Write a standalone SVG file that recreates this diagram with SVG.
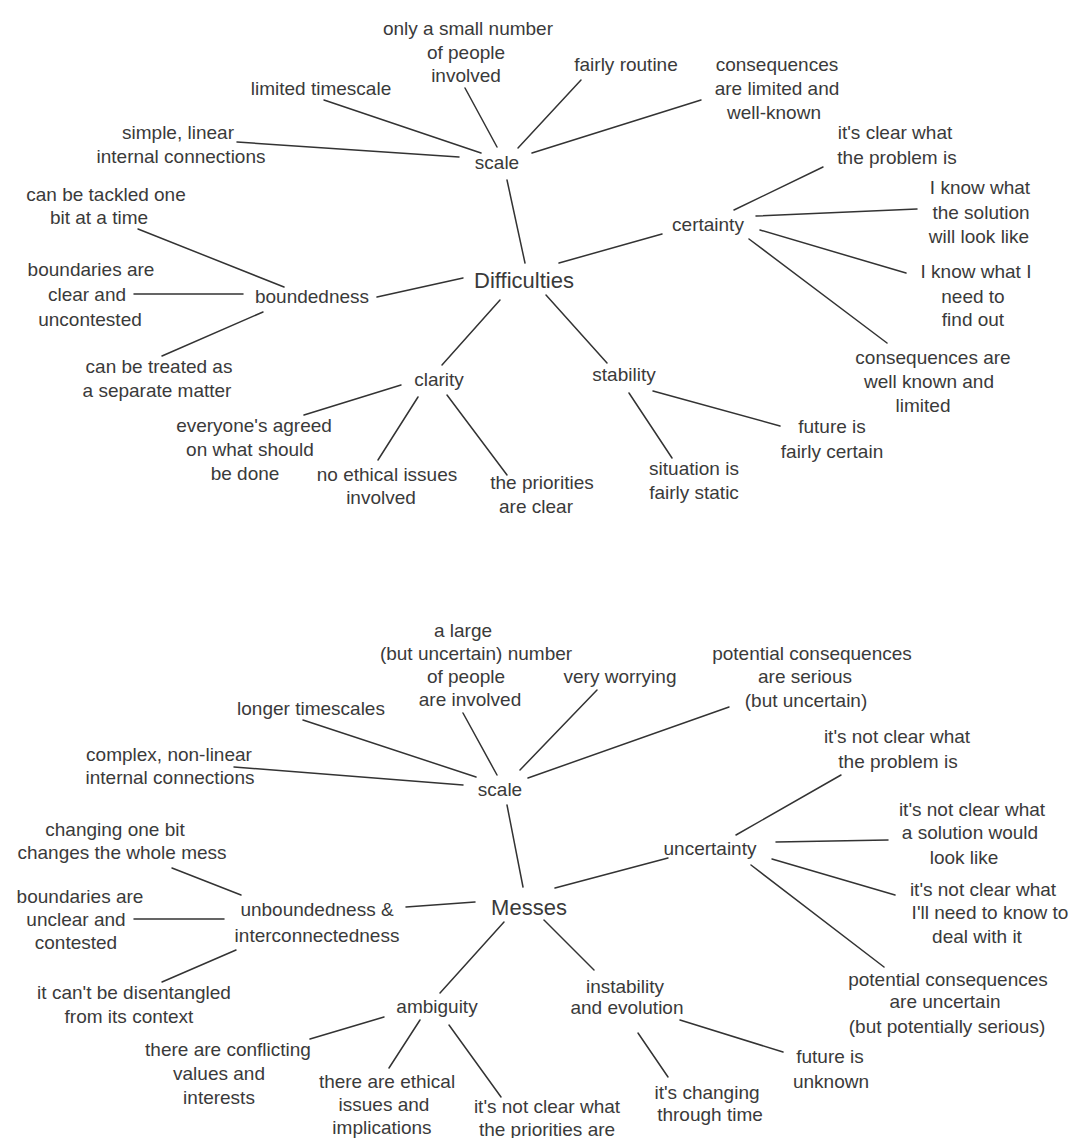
<svg xmlns="http://www.w3.org/2000/svg" width="1079" height="1138" viewBox="0 0 1079 1138">
<style>
text{font-family:"Liberation Sans",Arial,sans-serif;font-size:19px;fill:#3a3a3a;text-anchor:middle}
text.big{font-size:22px}
#connectors line{stroke:#333;stroke-width:1.5;stroke-linecap:round}
</style>
<rect width="1079" height="1138" fill="#fff"/>
<g id="connectors">
<line x1="525" y1="263" x2="507" y2="180"/>
<line x1="481" y1="153" x2="324" y2="100"/>
<line x1="497" y1="147" x2="465" y2="88"/>
<line x1="518" y1="148" x2="581" y2="80"/>
<line x1="532" y1="153" x2="701" y2="100"/>
<line x1="459" y1="157" x2="237" y2="142"/>
<line x1="559" y1="263" x2="662" y2="234"/>
<line x1="734" y1="210" x2="823" y2="167"/>
<line x1="756" y1="216" x2="917" y2="209"/>
<line x1="760" y1="230" x2="906" y2="273"/>
<line x1="749" y1="239" x2="887" y2="343"/>
<line x1="463" y1="278" x2="377" y2="297"/>
<line x1="284" y1="287" x2="138" y2="229"/>
<line x1="243" y1="294" x2="134" y2="294"/>
<line x1="263" y1="312" x2="162" y2="356"/>
<line x1="500" y1="300" x2="442" y2="365"/>
<line x1="401" y1="385" x2="304" y2="415"/>
<line x1="418" y1="397" x2="378" y2="460"/>
<line x1="447" y1="395" x2="507" y2="475"/>
<line x1="546" y1="295" x2="607" y2="363"/>
<line x1="653" y1="391" x2="780" y2="426"/>
<line x1="629" y1="393" x2="672" y2="458"/>
<line x1="523" y1="887" x2="507" y2="805"/>
<line x1="476" y1="777" x2="303" y2="720"/>
<line x1="497" y1="775" x2="463" y2="713"/>
<line x1="520" y1="770" x2="597" y2="690"/>
<line x1="528" y1="778" x2="729" y2="707"/>
<line x1="463" y1="785" x2="234" y2="767"/>
<line x1="555" y1="888" x2="668" y2="858"/>
<line x1="736" y1="835" x2="841" y2="775"/>
<line x1="776" y1="842" x2="888" y2="840"/>
<line x1="772" y1="859" x2="895" y2="895"/>
<line x1="751" y1="865" x2="884" y2="967"/>
<line x1="475" y1="902" x2="406" y2="907"/>
<line x1="241" y1="895" x2="172" y2="868"/>
<line x1="224" y1="919" x2="134" y2="919"/>
<line x1="236" y1="950" x2="162" y2="982"/>
<line x1="504" y1="922" x2="440" y2="993"/>
<line x1="384" y1="1017" x2="310" y2="1039"/>
<line x1="420" y1="1020" x2="389" y2="1068"/>
<line x1="449" y1="1025" x2="501" y2="1097"/>
<line x1="544" y1="920" x2="594" y2="970"/>
<line x1="680" y1="1020" x2="783" y2="1052"/>
<line x1="638" y1="1033" x2="668" y2="1077"/>
</g>
<g id="difficulties"><text class="big" x="524" y="288">Difficulties</text></g>
<g id="scale1"><text x="497" y="169">scale</text></g>
<g id="small-number"><text x="468" y="35">only a small number</text><text x="466" y="59">of people</text><text x="466" y="82">involved</text></g>
<g id="limited-timescale"><text x="321" y="95">limited timescale</text></g>
<g id="fairly-routine"><text x="626" y="71">fairly routine</text></g>
<g id="consequences1"><text x="777" y="71">consequences</text><text x="777" y="95">are limited and</text><text x="774" y="119">well-known</text></g>
<g id="simple-linear"><text x="178" y="139">simple, linear</text><text x="181" y="163">internal connections</text></g>
<g id="certainty"><text x="708" y="231">certainty</text></g>
<g id="clear-problem"><text x="895" y="139">it's clear what</text><text x="897" y="164">the problem is</text></g>
<g id="know-solution"><text x="980" y="194">I know what</text><text x="981" y="219">the solution</text><text x="979" y="243">will look like</text></g>
<g id="know-findout"><text x="976" y="278">I know what I</text><text x="973" y="303">need to</text><text x="973" y="326">find out</text></g>
<g id="consequences2"><text x="933" y="364">consequences are</text><text x="929" y="388">well known and</text><text x="923" y="412">limited</text></g>
<g id="boundedness"><text x="312" y="303">boundedness</text></g>
<g id="tackled"><text x="106" y="201">can be tackled one</text><text x="99" y="224">bit at a time</text></g>
<g id="boundaries1"><text x="91" y="276">boundaries are</text><text x="87" y="301">clear and</text><text x="90" y="326">uncontested</text></g>
<g id="treated"><text x="159" y="373">can be treated as</text><text x="157" y="397">a separate matter</text></g>
<g id="clarity"><text x="439" y="386">clarity</text></g>
<g id="everyone-agreed"><text x="254" y="432">everyone's agreed</text><text x="250" y="456">on what should</text><text x="245" y="480">be done</text></g>
<g id="no-ethical"><text x="387" y="481">no ethical issues</text><text x="381" y="504">involved</text></g>
<g id="priorities-clear"><text x="542" y="489">the priorities</text><text x="536" y="513">are clear</text></g>
<g id="stability"><text x="624" y="381">stability</text></g>
<g id="future-certain"><text x="832" y="433">future is</text><text x="832" y="458">fairly certain</text></g>
<g id="situation-static"><text x="694" y="475">situation is</text><text x="694" y="499">fairly static</text></g>
<g id="messes"><text class="big" x="529" y="915">Messes</text></g>
<g id="scale2"><text x="500" y="796">scale</text></g>
<g id="large-number"><text x="463" y="637">a large</text><text x="476" y="660">(but uncertain) number</text><text x="466" y="683">of people</text><text x="470" y="706">are involved</text></g>
<g id="very-worrying"><text x="620" y="683">very worrying</text></g>
<g id="consequences3"><text x="812" y="660">potential consequences</text><text x="805" y="683">are serious</text><text x="806" y="707">(but uncertain)</text></g>
<g id="longer-timescales"><text x="311" y="715">longer timescales</text></g>
<g id="complex"><text x="169" y="761">complex, non-linear</text><text x="170" y="784">internal connections</text></g>
<g id="uncertainty"><text x="710" y="855">uncertainty</text></g>
<g id="notclear-problem"><text x="897" y="743">it's not clear what</text><text x="898" y="768">the problem is</text></g>
<g id="notclear-solution"><text x="972" y="816">it's not clear what</text><text x="970" y="839">a solution would</text><text x="964" y="864">look like</text></g>
<g id="notclear-need"><text x="983" y="896">it's not clear what</text><text x="990" y="919">I'll need to know to</text><text x="977" y="943">deal with it</text></g>
<g id="consequences4"><text x="948" y="986">potential consequences</text><text x="945" y="1008">are uncertain</text><text x="947" y="1033">(but potentially serious)</text></g>
<g id="unboundedness"><text x="317" y="916">unboundedness &amp;</text><text x="317" y="942">interconnectedness</text></g>
<g id="changing-bit"><text x="115" y="836">changing one bit</text><text x="122" y="859">changes the whole mess</text></g>
<g id="boundaries2"><text x="80" y="903">boundaries are</text><text x="76" y="926">unclear and</text><text x="76" y="949">contested</text></g>
<g id="disentangled"><text x="134" y="999">it can't be disentangled</text><text x="129" y="1023">from its context</text></g>
<g id="ambiguity"><text x="437" y="1013">ambiguity</text></g>
<g id="conflicting"><text x="228" y="1056">there are conflicting</text><text x="219" y="1080">values and</text><text x="219" y="1104">interests</text></g>
<g id="ethical-issues"><text x="387" y="1088">there are ethical</text><text x="384" y="1111">issues and</text><text x="382" y="1134">implications</text></g>
<g id="priorities-unclear"><text x="547" y="1113">it's not clear what</text><text x="547" y="1136">the priorities are</text></g>
<g id="instability"><text x="625" y="993">instability</text><text x="627" y="1014">and evolution</text></g>
<g id="future-unknown"><text x="830" y="1063">future is</text><text x="831" y="1088">unknown</text></g>
<g id="changing-time"><text x="707" y="1099">it's changing</text><text x="710" y="1121">through time</text></g>
</svg>
